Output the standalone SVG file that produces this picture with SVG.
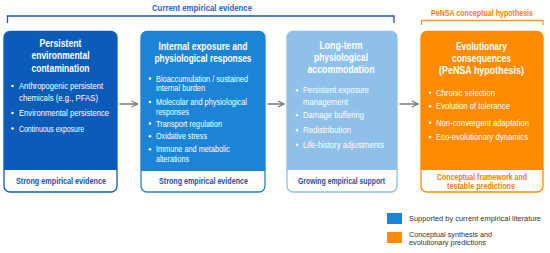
<svg xmlns="http://www.w3.org/2000/svg" width="550" height="253" viewBox="0 0 550 253">
<defs>
<style>
text{font-family:"Liberation Sans",Arial,sans-serif}
.t{font-size:11.5px;font-weight:bold;fill:#fff;text-anchor:middle}
.b{font-size:9.3px;fill:#fff}
.f{font-size:8.5px;font-weight:bold;text-anchor:middle}
.fb{fill:#1f4fa6}
.fo{fill:#f07d00}
.h{font-size:8.2px;font-weight:bold;text-anchor:middle}
.lg{font-size:8px;fill:#333}
.dot{fill:#fff}
.conn{stroke:#777;stroke-width:1.5;fill:none}
</style>
<marker id="ah" viewBox="0 0 10 10" refX="9" refY="5" markerWidth="5" markerHeight="5" orient="auto" markerUnits="strokeWidth">
<path d="M1,1 L9,5 L1,9" fill="none" stroke="#777" stroke-width="1.6"/>
</marker>
</defs>
<rect width="550" height="253" fill="#fff"/>

<g id="header-current">
<path d="M7.5,23 V16 H394 V23" fill="none" stroke="#1f4fb8" stroke-width="1.3"/>
<text class="h" x="202" y="10.5" fill="#1f5fc8" textLength="100" lengthAdjust="spacingAndGlyphs">Current empirical evidence</text>
</g>
<g id="header-pensa">
<path d="M421.5,25 V20.5 H543 V25" fill="none" stroke="#ff9a33" stroke-width="1.3"/>
<text class="h" x="482" y="15.5" fill="#f58200" textLength="102" lengthAdjust="spacingAndGlyphs">PeNSA conceptual hypothesis</text>
</g>

<g id="node1">
<rect x="4" y="31.5" width="113" height="160.5" rx="6" fill="#fff" stroke="#0b5cb8" stroke-width="1.3"/>
<path d="M4,170 V37.5 a6,6 0 0 1 6,-6 H111 a6,6 0 0 1 6,6 V170 Z" fill="#0b5cb8"/>
<text class="t" x="60.5" y="46.5" textLength="42" lengthAdjust="spacingAndGlyphs">Persistent</text>
<text class="t" x="60.5" y="59" textLength="58" lengthAdjust="spacingAndGlyphs">environmental</text>
<text class="t" x="60.5" y="71.5" textLength="58" lengthAdjust="spacingAndGlyphs">contamination</text>
<circle class="dot" cx="12.5" cy="86" r="1.3"/>
<text class="b" x="19" y="89" textLength="84" lengthAdjust="spacingAndGlyphs">Anthropogenic persistent</text>
<text class="b" x="19" y="101" textLength="79" lengthAdjust="spacingAndGlyphs">chemicals (e.g., PFAS)</text>
<circle class="dot" cx="12.5" cy="113" r="1.3"/>
<text class="b" x="19" y="116" textLength="90" lengthAdjust="spacingAndGlyphs">Environmental persistence</text>
<circle class="dot" cx="12.5" cy="128.5" r="1.3"/>
<text class="b" x="19" y="131.5" textLength="65" lengthAdjust="spacingAndGlyphs">Continuous exposure</text>
<text class="f fb" x="61" y="183.5" textLength="90" lengthAdjust="spacingAndGlyphs">Strong empirical evidence</text>
</g>

<g id="node2">
<rect x="141" y="31.5" width="124" height="160.5" rx="6" fill="#fff" stroke="#1c84d6" stroke-width="1.3"/>
<path d="M141,171 V37.5 a6,6 0 0 1 6,-6 H259 a6,6 0 0 1 6,6 V171 Z" fill="#1c84d6"/>
<text class="t" x="203" y="49.5" textLength="89" lengthAdjust="spacingAndGlyphs">Internal exposure and</text>
<text class="t" x="203" y="62" textLength="97" lengthAdjust="spacingAndGlyphs">physiological responses</text>
<circle class="dot" cx="150" cy="78.5" r="1.3"/>
<text class="b" x="156" y="81.5" textLength="92" lengthAdjust="spacingAndGlyphs">Bioaccumulation / sustained</text>
<text class="b" x="156" y="91" textLength="49" lengthAdjust="spacingAndGlyphs">internal burden</text>
<circle class="dot" cx="150" cy="102" r="1.3"/>
<text class="b" x="156" y="105" textLength="91" lengthAdjust="spacingAndGlyphs">Molecular and physiological</text>
<text class="b" x="156" y="114.5" textLength="33" lengthAdjust="spacingAndGlyphs">responses</text>
<circle class="dot" cx="150" cy="123.5" r="1.3"/>
<text class="b" x="156" y="126.5" textLength="66" lengthAdjust="spacingAndGlyphs">Transport regulation</text>
<circle class="dot" cx="150" cy="136.2" r="1.3"/>
<text class="b" x="156" y="139.2" textLength="51" lengthAdjust="spacingAndGlyphs">Oxidative stress</text>
<circle class="dot" cx="150" cy="149.2" r="1.3"/>
<text class="b" x="156" y="152.2" textLength="74" lengthAdjust="spacingAndGlyphs">Immune and metabolic</text>
<text class="b" x="156" y="161.8" textLength="33" lengthAdjust="spacingAndGlyphs">alterations</text>
<text class="f fb" x="203.5" y="183.5" textLength="89" lengthAdjust="spacingAndGlyphs">Strong empirical evidence</text>
</g>

<g id="node3">
<rect x="287" y="31.5" width="110" height="160.5" rx="6" fill="#fff" stroke="#8ec0ea" stroke-width="1.3"/>
<path d="M287,170 V37.5 a6,6 0 0 1 6,-6 H391 a6,6 0 0 1 6,6 V170 Z" fill="#8ec0ea"/>
<text class="t" x="341" y="48.5" textLength="43" lengthAdjust="spacingAndGlyphs">Long-term</text>
<text class="t" x="341" y="61" textLength="54" lengthAdjust="spacingAndGlyphs">physiological</text>
<text class="t" x="341" y="73" textLength="67" lengthAdjust="spacingAndGlyphs">accommodation</text>
<circle class="dot" cx="297" cy="90.3" r="1.3"/>
<text class="b" x="303" y="93.3" textLength="66" lengthAdjust="spacingAndGlyphs">Persistent exposure</text>
<text class="b" x="303" y="104.5" textLength="45" lengthAdjust="spacingAndGlyphs">management</text>
<circle class="dot" cx="297" cy="115.3" r="1.3"/>
<text class="b" x="303" y="118.3" textLength="61" lengthAdjust="spacingAndGlyphs">Damage buffering</text>
<circle class="dot" cx="297" cy="130.3" r="1.3"/>
<text class="b" x="303" y="133.3" textLength="48" lengthAdjust="spacingAndGlyphs">Redistribution</text>
<circle class="dot" cx="297" cy="144.7" r="1.3"/>
<text class="b" x="303" y="147.7" textLength="81" lengthAdjust="spacingAndGlyphs">Life-history adjustments</text>
<text class="f fb" x="341.5" y="183.5" textLength="87" lengthAdjust="spacingAndGlyphs">Growing empirical support</text>
</g>

<g id="node4">
<rect x="421" y="31.5" width="122" height="160.5" rx="6" fill="#fff" stroke="#ff8c00" stroke-width="1.3"/>
<path d="M421,170 V37.5 a6,6 0 0 1 6,-6 H537 a6,6 0 0 1 6,6 V170 Z" fill="#ff8c00"/>
<text class="t" x="481.5" y="49.5" textLength="51" lengthAdjust="spacingAndGlyphs">Evolutionary</text>
<text class="t" x="481.5" y="61.5" textLength="59" lengthAdjust="spacingAndGlyphs">consequences</text>
<text class="t" x="481.5" y="73.5" textLength="85" lengthAdjust="spacingAndGlyphs">(PeNSA hypothesis)</text>
<circle class="dot" cx="430" cy="92.7" r="1.3"/>
<text class="b" x="436" y="95.7" textLength="59" lengthAdjust="spacingAndGlyphs">Chronic selection</text>
<circle class="dot" cx="430" cy="106.3" r="1.3"/>
<text class="b" x="436" y="109.3" textLength="74" lengthAdjust="spacingAndGlyphs">Evolution of tolerance</text>
<circle class="dot" cx="430" cy="122.7" r="1.3"/>
<text class="b" x="436" y="125.7" textLength="93" lengthAdjust="spacingAndGlyphs">Non-convergent adaptation</text>
<circle class="dot" cx="430" cy="137" r="1.3"/>
<text class="b" x="436" y="140" textLength="92" lengthAdjust="spacingAndGlyphs">Eco-evolutionary dynamics</text>
<text class="f fo" x="482" y="179.5" textLength="90" lengthAdjust="spacingAndGlyphs">Conceptual framework and</text>
<text class="f fo" x="481" y="188.5" textLength="68" lengthAdjust="spacingAndGlyphs">testable predictions</text>
</g>

<g id="connectors">
<line class="conn" x1="119.5" y1="104" x2="137.5" y2="104" marker-end="url(#ah)"/>
<line class="conn" x1="267.5" y1="104" x2="284" y2="104" marker-end="url(#ah)"/>
<line class="conn" x1="399.5" y1="104" x2="418" y2="104" marker-end="url(#ah)"/>
</g>

<g id="legend">
<rect x="387" y="213" width="15" height="11" fill="#1c84d6"/>
<text class="lg" x="409" y="221" textLength="132" lengthAdjust="spacingAndGlyphs">Supported by current empirical literature</text>
<rect x="387" y="232" width="15" height="11" fill="#ff8c00"/>
<text class="lg" x="409" y="236.5" textLength="83" lengthAdjust="spacingAndGlyphs">Conceptual synthesis and</text>
<text class="lg" x="409" y="245" textLength="77" lengthAdjust="spacingAndGlyphs">evolutionary predictions</text>
</g>
</svg>
